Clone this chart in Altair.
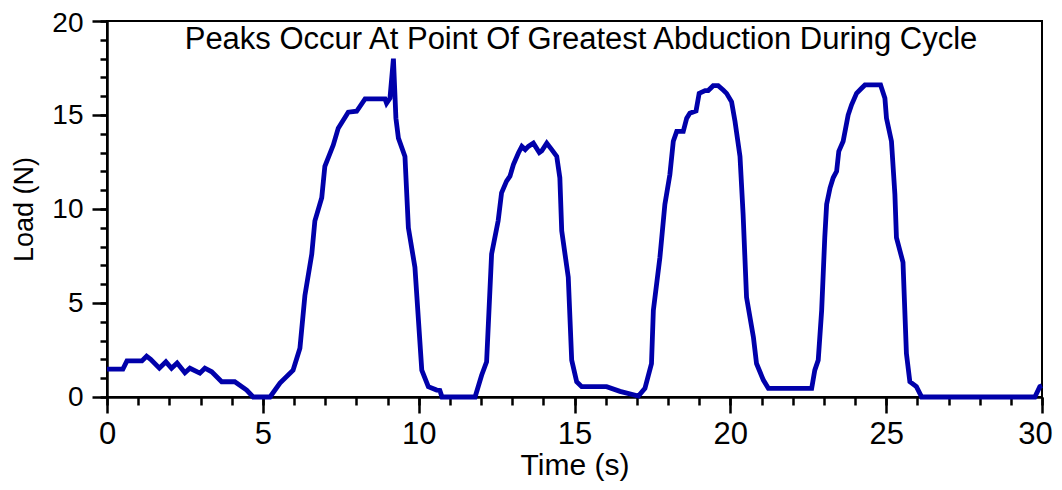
import altair as alt
import pandas as pd

# ---- data ----
time_s = [0.0, 0.51, 0.64, 1.12, 1.27, 1.40, 1.68, 1.89, 2.07, 2.25, 2.50, 2.66, 2.98, 3.14, 3.36,
          3.68, 4.10, 4.48, 4.69, 5.23, 5.55, 5.97, 6.19, 6.35, 6.57, 6.67, 6.89, 6.99, 7.26, 7.42,
          7.74, 8.01, 8.28, 8.92, 8.97, 9.08, 9.19, 9.27, 9.35, 9.56, 9.67, 9.88, 10.10, 10.31,
          10.58, 10.68, 10.75, 11.81, 12.02, 12.18, 12.34, 12.55, 12.66, 12.82, 12.93, 13.04, 13.20,
          13.31, 13.42, 13.52, 13.68, 13.87, 13.95, 14.11, 14.27, 14.43, 14.53, 14.59, 14.80, 14.91,
          15.07, 15.23, 16.03, 16.46, 17.05, 17.26, 17.47, 17.53, 17.74, 17.90, 18.06, 18.17, 18.28,
          18.49, 18.60, 18.70, 18.90, 19.00, 19.19, 19.29, 19.45, 19.61, 19.77, 19.88, 20.04, 20.15,
          20.31, 20.41, 20.52, 20.74, 20.84, 21.06, 21.22, 22.61, 22.71, 22.82, 22.93, 23.03, 23.09,
          23.20, 23.30, 23.41, 23.48, 23.62, 23.78, 23.89, 24.05, 24.21, 24.32, 24.82, 24.96, 25.01,
          25.17, 25.28, 25.33, 25.54, 25.65, 25.76, 25.97, 26.14, 29.77, 29.93, 30.0]
load_n = [1.48, 1.48, 1.92, 1.92, 2.17, 2.00, 1.53, 1.87, 1.53, 1.81, 1.29, 1.53, 1.27, 1.53, 1.34,
          0.81, 0.81, 0.37, 0.0, 0.0, 0.74, 1.43, 2.59, 5.40, 7.60, 9.37, 10.60, 12.27, 13.40, 14.30,
          15.15, 15.20, 15.86, 15.86, 15.63, 15.90, 18.00, 14.83, 13.77, 12.80, 9.00, 6.90, 1.43, 0.55,
          0.37, 0.35, 0.0, 0.0, 1.16, 1.87, 7.60, 9.37, 10.86, 11.48, 11.75, 12.36, 12.98,
          13.33, 13.16, 13.33, 13.50, 13.00, 13.10, 13.50, 13.16, 12.80, 11.66, 8.84, 6.37, 1.96,
          0.81, 0.55, 0.55, 0.30, 0.05, 0.46, 1.78, 4.60, 7.42, 10.25, 11.83, 13.60, 14.13,
          14.13, 14.83, 15.10, 15.22, 16.15, 16.30, 16.30, 16.56, 16.56, 16.33, 16.15, 15.70, 14.66,
          12.80, 9.72, 5.30, 3.19, 1.78, 0.90, 0.46, 0.46, 1.43, 1.96, 4.60, 8.48, 10.25,
          11.13, 11.66, 12.00, 13.07, 13.60, 15.00, 15.54, 16.15, 16.42, 16.60, 16.60, 15.89, 14.83,
          13.60, 10.78, 8.48, 7.16, 2.31, 0.81, 0.55, 0.0, 0.0, 0.55, 0.60]

x_major = [0, 5, 10, 15, 20, 25, 30]
x_minor = list(range(0, 31))
y_major = [0, 5, 10, 15, 20]
y_minor = list(range(0, 21))

title_text = ["Peaks Occur At Point Of Greatest Abduction During Cycle"]
x_title = "Time (s)"
y_title = "Load (N)"

df = pd.DataFrame({"t": time_s, "load": load_n})
df_title = pd.DataFrame({"label": title_text})

FONT = "Liberation Sans"
xs = alt.Scale(domain=[0, 30], nice=False, zero=False)
ys = alt.Scale(domain=[0, 20], nice=False)

base = alt.Chart(df)

minor = base.mark_line(opacity=0).encode(
    x=alt.X("t:Q", scale=xs, axis=alt.Axis(orient="bottom", values=x_minor, tickSize=8,
                                           labels=False, domain=False, title=None,
                                           tickColor="black", tickWidth=2.5)),
    y=alt.Y("load:Q", scale=ys, axis=alt.Axis(orient="left", values=y_minor, tickSize=7,
                                              labels=False, domain=False, title=None,
                                              tickColor="black", tickWidth=2.5)),
)

line = base.mark_line(color="#0000AA", strokeWidth=4.8).encode(
    x=alt.X("t:Q", scale=xs, axis=alt.Axis(
        orient="bottom", values=x_major, tickSize=16, tickWidth=2.5, tickColor="black",
        domainColor="black", domainWidth=2.5, labelFlush=False, labelOverlap=False,
        labelOffset={"condition": {"test": "datum.value == 30", "value": -7}, "value": 0},
        labelFont=FONT, labelFontSize=31, labelColor="black", labelPadding=6,
        title=x_title, titleFont=FONT, titleFontSize=30, titleFontWeight="normal",
        titleColor="black", titlePadding=1)),
    y=alt.Y("load:Q", scale=ys, axis=alt.Axis(
        orient="left", values=y_major, tickSize=15, tickWidth=2.5, tickColor="black",
        domainColor="black", domainWidth=2.5, labelOverlap=False,
        labelOffset={"condition": {"test": "datum.value == 20", "value": 2}, "value": 0},
        labelFont=FONT, labelFontSize=28, labelColor="black", labelPadding=9,
        title=y_title, titleFont=FONT, titleFontSize=27, titleFontWeight="normal",
        titleColor="black", titlePadding=13)),
)

title_mark = alt.Chart(df_title).mark_text(
    font=FONT, fontSize=31, color="black", align="center", baseline="alphabetic"
).encode(
    text="label:N",
    x=alt.value(474),
    y=alt.value(28),
)

chart = alt.layer(minor, line, title_mark).resolve_scale(
    x="independent", y="independent"
).properties(
    width=935,
    height=376,
    autosize=alt.AutoSizeParams(type="none"),
    padding={"left": 99, "top": 13, "right": 12, "bottom": 85},
).configure_view(
    stroke="black", strokeWidth=2
).configure_axis(grid=False)

chart.save("out.html", embed_options={"renderer": "svg", "actions": False})
